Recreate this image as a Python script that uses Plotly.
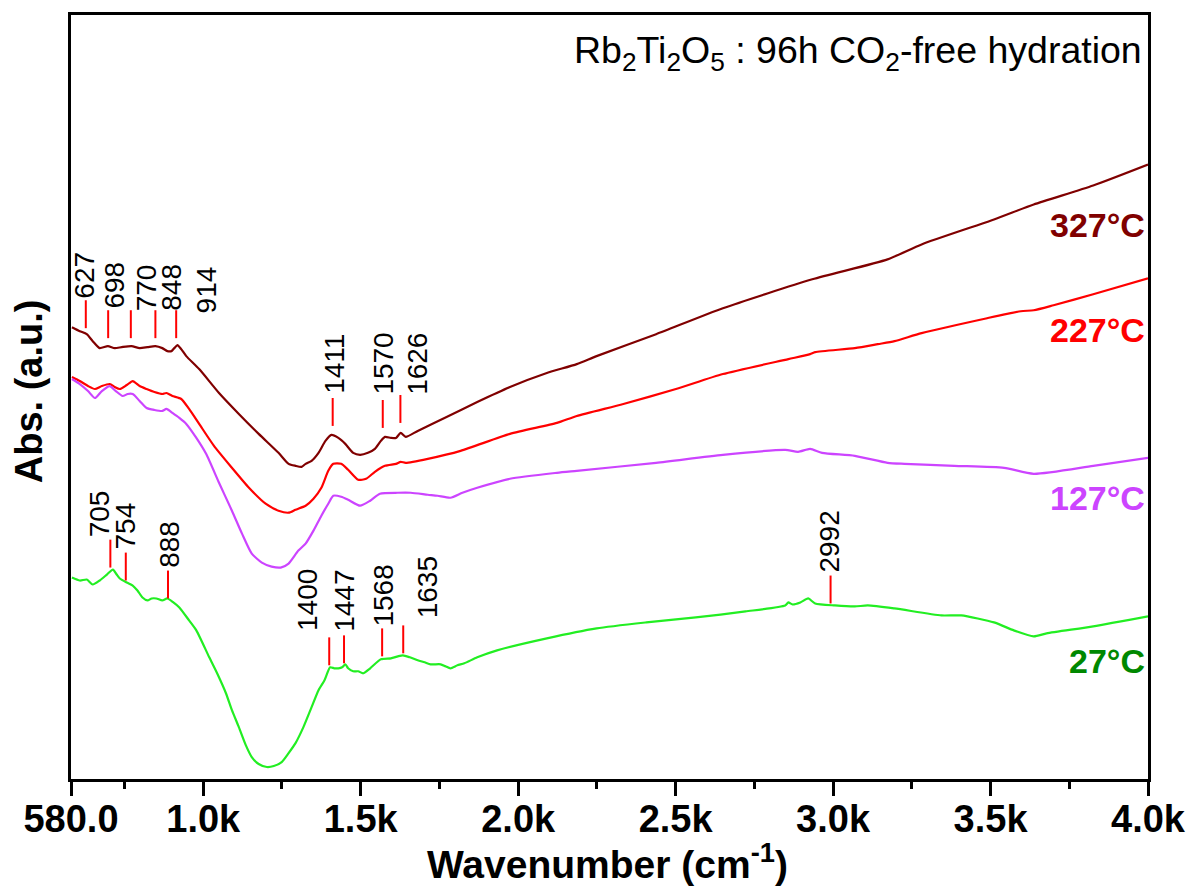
import plotly.graph_objects as go

# ---------------------------------------------------------------------------
# FTIR absorbance spectra of Rb2Ti2O5 after 96 h CO2-free hydration,
# recorded at four temperatures (curves offset vertically, arbitrary units)
# ---------------------------------------------------------------------------

# 327 °C
wn_327 = [583, 608, 630, 649, 671, 697, 719, 741, 772, 798, 823, 848, 870, 886, 899,
          908, 918, 930, 946, 987, 1050, 1113, 1176, 1239, 1271, 1293, 1312, 1325,
          1344, 1366, 1388, 1407, 1429, 1451, 1476, 1498, 1523, 1545, 1564, 1577,
          1596, 1612, 1627, 1643, 1681, 1766, 1870, 1974, 2091, 2186, 2249, 2438,
          2650, 2934, 3173, 3281, 3511, 3637, 3826, 4000]
abs_327 = [4.53, 4.49, 4.46, 4.39, 4.32, 4.34, 4.32, 4.33, 4.34, 4.32, 4.33, 4.34, 4.32,
           4.29, 4.29, 4.32, 4.35, 4.31, 4.24, 4.11, 3.87, 3.66, 3.46, 3.27, 3.16, 3.14,
           3.13, 3.16, 3.19, 3.27, 3.39, 3.45, 3.42, 3.36, 3.27, 3.25, 3.27, 3.31, 3.39,
           3.43, 3.42, 3.42, 3.47, 3.43, 3.49, 3.62, 3.78, 3.93, 4.07, 4.16, 4.24, 4.46,
           4.72, 5.01, 5.21, 5.36, 5.61, 5.76, 5.95, 6.16]

# 227 °C
wn_227 = [583, 608, 634, 656, 678, 703, 719, 735, 757, 776, 798, 820, 845, 870, 883,
          902, 930, 955, 987, 1034, 1091, 1145, 1198, 1239, 1271, 1293, 1325, 1350,
          1375, 1397, 1413, 1438, 1460, 1492, 1517, 1545, 1577, 1612, 1627, 1643,
          1713, 1817, 1974, 2123, 2186, 2334, 2501, 2650, 2858, 2927, 2943, 3069,
          3142, 3195, 3281, 3489, 3596, 3637, 3700, 3826, 4000]
abs_227 = [4.03, 3.99, 3.94, 3.91, 3.94, 3.96, 3.93, 3.91, 3.95, 3.99, 3.94, 3.91, 3.88,
           3.86, 3.87, 3.84, 3.81, 3.71, 3.56, 3.34, 3.12, 2.92, 2.76, 2.69, 2.67, 2.70,
           2.74, 2.81, 2.92, 3.09, 3.16, 3.16, 3.10, 3.00, 3.01, 3.08, 3.14, 3.16, 3.18,
           3.17, 3.21, 3.29, 3.46, 3.57, 3.64, 3.76, 3.91, 4.06, 4.21, 4.26, 4.28, 4.32,
           4.36, 4.39, 4.47, 4.62, 4.69, 4.70, 4.75, 4.86, 5.02]

# 127 °C
wn_127 = [583, 608, 634, 656, 678, 703, 722, 744, 760, 776, 798, 820, 845, 870, 883,
          902, 924, 946, 978, 1009, 1050, 1091, 1123, 1154, 1186, 1217, 1246, 1271,
          1302, 1325, 1350, 1375, 1397, 1413, 1438, 1460, 1498, 1530, 1561, 1618,
          1659, 1713, 1744, 1785, 1823, 1870, 1974, 2123, 2186, 2438, 2650, 2848,
          2889, 2927, 2965, 3069, 3173, 3227, 3385, 3543, 3637, 3826, 4000]
abs_127 = [4.01, 3.96, 3.89, 3.82, 3.89, 3.94, 3.89, 3.84, 3.86, 3.86, 3.79, 3.72, 3.70,
           3.69, 3.71, 3.67, 3.62, 3.56, 3.42, 3.26, 2.97, 2.69, 2.46, 2.26, 2.17, 2.13,
           2.12, 2.16, 2.29, 2.36, 2.49, 2.64, 2.76, 2.84, 2.83, 2.80, 2.74, 2.79, 2.86,
           2.87, 2.87, 2.85, 2.84, 2.82, 2.87, 2.92, 3.01, 3.07, 3.09, 3.17, 3.25, 3.30,
           3.28, 3.31, 3.27, 3.24, 3.17, 3.16, 3.14, 3.12, 3.06, 3.14, 3.22]

# 27 °C
wn_27 = [583, 608, 630, 649, 671, 694, 713, 725, 735, 757, 776, 791, 807, 823, 836,
         851, 870, 886, 905, 924, 955, 978, 1019, 1044, 1072, 1091, 1113, 1135, 1154,
         1176, 1202, 1224, 1249, 1271, 1293, 1318, 1344, 1366, 1385, 1403, 1416, 1429,
         1441, 1451, 1460, 1476, 1492, 1508, 1530, 1564, 1596, 1618, 1634, 1656, 1681,
         1703, 1722, 1754, 1769, 1785, 1807, 1829, 1870, 1933, 2091, 2249, 2407, 2564,
         2722, 2848, 2858, 2871, 2896, 2921, 2943, 3006, 3069, 3110, 3195, 3344, 3407,
         3511, 3574, 3637, 3678, 3826, 4000]
abs_27 = [2.02, 1.99, 2.00, 1.95, 1.99, 2.05, 2.10, 2.05, 2.01, 1.97, 1.94, 1.89, 1.82,
          1.79, 1.81, 1.81, 1.79, 1.81, 1.77, 1.72, 1.59, 1.49, 1.22, 1.06, 0.86, 0.69,
          0.52, 0.34, 0.22, 0.15, 0.12, 0.13, 0.17, 0.26, 0.36, 0.52, 0.72, 0.89, 0.99,
          1.12, 1.11, 1.11, 1.12, 1.15, 1.11, 1.08, 1.08, 1.06, 1.11, 1.20, 1.21, 1.23,
          1.24, 1.22, 1.19, 1.17, 1.15, 1.15, 1.13, 1.11, 1.14, 1.16, 1.22, 1.29, 1.41,
          1.51, 1.57, 1.62, 1.68, 1.74, 1.77, 1.75, 1.77, 1.81, 1.76, 1.74, 1.73, 1.74,
          1.71, 1.64, 1.64, 1.57, 1.49, 1.43, 1.46, 1.53, 1.63]

temperatures = ["327°C", "227°C", "127°C", "27°C"]

# Assigned band positions (cm-1)
peaks_327 = [627, 698, 770, 848, 914, 1411, 1570, 1626]
peaks_27 = [705, 754, 888, 1400, 1447, 1568, 1635, 2992]

# x tick labels
tick_vals = [580, 1000, 1500, 2000, 2500, 3000, 3500, 4000]
tick_text = ["580.0", "1.0k", "1.5k", "2.0k", "2.5k", "3.0k", "3.5k", "4.0k"]
minor_vals = [750, 1250, 1750, 2250, 2750, 3250, 3750]

# ---------------------------------------------------------------------------
# styling / placement
# ---------------------------------------------------------------------------
FONT = "Liberation Sans, Arial, Helvetica, sans-serif"
line_colors = ["#800000", "#FF0000", "#CC44FF", "#22EE22"]
label_colors = ["#800000", "#FF0000", "#CC44FF", "#008800"]
label_y = [0.7245, 0.5875, 0.368, 0.155]          # paper coords of curve labels

# band marker placement: (bottom of tick, text x, text y) for each band
MARK_LEN = 0.28
marks_327 = [(4.52, 624, 5.055), (4.42, 719, 4.955), (4.42, 820, 4.925),
             (4.42, 899, 4.93), (4.42, 1009, 4.90), (3.54, 1416, 4.165),
             (3.52, 1574, 4.165), (3.57, 1678, 4.16)]
marks_27 = [(2.12, 671, 2.66), (1.99, 754, 2.54), (1.81, 892, 2.35),
            (1.14, 1331, 1.79), (1.16, 1448, 1.79), (1.23, 1571, 1.84),
            (1.26, 1713, 1.92), (1.76, 2990, 2.38)]

fig = go.Figure()

series = [(wn_327, abs_327), (wn_227, abs_227), (wn_127, abs_127), (wn_27, abs_27)]
for (wx, wy), name, col in zip(series, temperatures, line_colors):
    fig.add_trace(go.Scatter(x=wx, y=wy, mode="lines", name=name,
                             line=dict(color=col, width=2.2, shape="spline",
                                       smoothing=0.6),
                             showlegend=False))

# red band markers and rotated band labels
mx, my = [], []
annotations = []
for peaks, marks in ((peaks_327, marks_327), (peaks_27, marks_27)):
    for p, (y0, tx, ty) in zip(peaks, marks):
        mx += [p, p, None]
        my += [y0, y0 + MARK_LEN, None]
        annotations.append(dict(x=tx, y=ty, xref="x", yref="y", text=str(p),
                                textangle=-90, showarrow=False,
                                xanchor="center", yanchor="middle",
                                font=dict(family=FONT, size=28, color="black")))
fig.add_trace(go.Scatter(x=mx, y=my, mode="lines", line=dict(color="#FF0000", width=2),
                         showlegend=False, hoverinfo="skip"))

# curve labels
for name, col, yl in zip(temperatures, label_colors, label_y):
    annotations.append(dict(x=0.999, y=yl, xref="paper", yref="paper", text=name,
                            showarrow=False, xanchor="right", yanchor="middle",
                            font=dict(family=FONT, size=34, color=col, weight="bold")))

# sample description
annotations.append(dict(x=0.996, y=0.950, xref="paper", yref="paper",
                        text="Rb<sub>2</sub>Ti<sub>2</sub>O<sub>5</sub> : 96h CO<sub>2</sub>-free hydration",
                        showarrow=False, xanchor="right", yanchor="middle",
                        font=dict(family=FONT, size=37.5, color="black")))

# axis titles
annotations.append(dict(x=0.498, y=-0.108, xref="paper", yref="paper",
                        text="Wavenumber (cm<sup>-1</sup>)", showarrow=False,
                        xanchor="center", yanchor="middle",
                        font=dict(family=FONT, size=39, color="black", weight="bold")))
annotations.append(dict(x=-0.0387, y=0.508, xref="paper", yref="paper",
                        text="Abs. (a.u.)", showarrow=False, textangle=-90,
                        xanchor="center", yanchor="middle",
                        font=dict(family=FONT, size=38, color="black", weight="bold")))

fig.update_layout(
    width=1198, height=890,
    margin=dict(l=71, r=43, t=13, b=111),
    paper_bgcolor="white", plot_bgcolor="white",
    font=dict(family=FONT, color="black"),
    annotations=annotations,
    xaxis=dict(range=[580, 4000], showgrid=False, zeroline=False,
               showline=True, linecolor="black", linewidth=3, mirror=True,
               ticks="outside", ticklen=14, tickwidth=3, tickcolor="black",
               tickmode="array", tickvals=tick_vals, ticktext=tick_text,
               ticklabelstandoff=-10,
               tickfont=dict(family=FONT, size=38, color="black", weight="bold"),
               minor=dict(tickvals=minor_vals, ticks="outside", ticklen=7,
                          tickwidth=3, tickcolor="black", showgrid=False)),
    yaxis=dict(range=[0, 7.66], showgrid=False, zeroline=False,
               showline=True, linecolor="black", linewidth=3, mirror=True,
               ticks="", showticklabels=False),
)

fig.write_html("out.html")
